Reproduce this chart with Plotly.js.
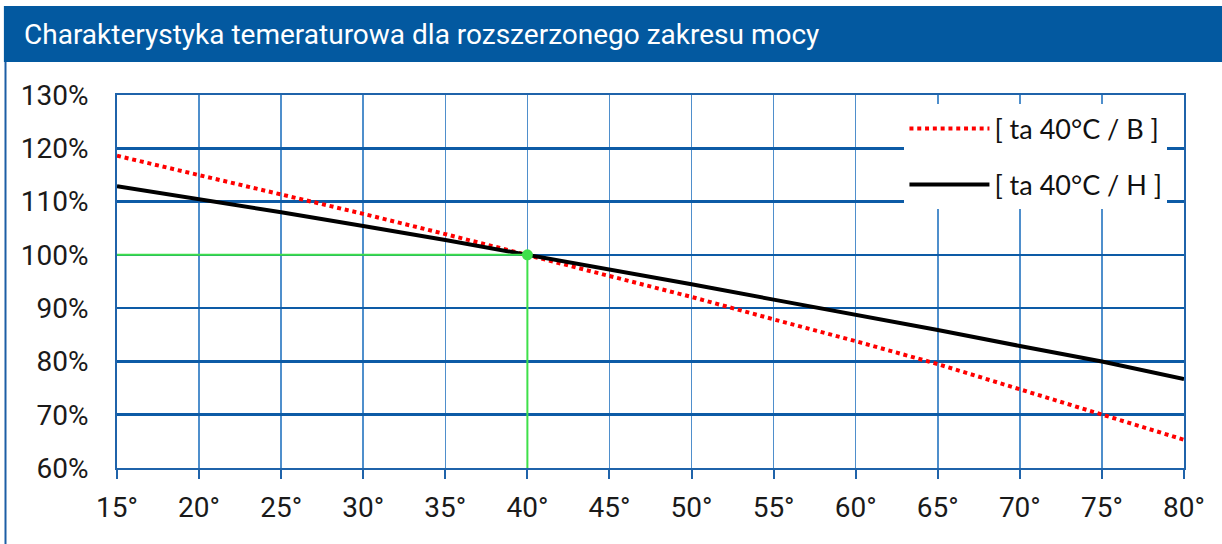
<!DOCTYPE html>
<html>
<head>
<meta charset="utf-8">
<script src="https://cdn.plot.ly/plotly-3.0.1.min.js"></script>
<style>html,body{margin:0;padding:0;background:#fff;}#chart{width:1222px;height:544px;}</style>
</head>
<body>
<div id="chart"></div>
<script>
const titleText = 'Charakterystyka temeraturowa dla rozszerzonego zakresu mocy';
const temps = [15, 20, 25, 30, 35, 40, 45, 50, 55, 60, 65, 70, 75, 80];
const seriesB = [118.6, 115.0, 111.4, 107.7, 103.9, 100.0, 96.1, 92.1, 87.9, 83.8, 79.5, 74.8, 70.1, 65.3];
const seriesH = [112.9, 110.5, 108.0, 105.4, 102.8, 100.0, 97.3, 94.5, 91.6, 88.8, 85.9, 82.9, 80.0, 76.7];
const nameB = '[ ta 40°C / B ]';
const nameH = '[ ta 40°C / H ]';
const refX = [15, 40, 40];
const refY = [100, 100, 60];
const refPointX = [40];
const refPointY = [100];
const xTicks = [15, 20, 25, 30, 35, 40, 45, 50, 55, 60, 65, 70, 75, 80];
const xTickLabels = ['15°', '20°', '25°', '30°', '35°', '40°', '45°', '50°', '55°', '60°', '65°', '70°', '75°', '80°'];
const yTicks = [60, 70, 80, 90, 100, 110, 120, 130];
const yTickLabels = ['60%', '70%', '80%', '90%', '100%', '110%', '120%', '130%'];

const traces = [
  {x: temps, y: seriesB, name: nameB, mode: 'lines', legendgroup: 'b',
   line: {color: '#ff0000', width: 4, dash: '4px,3.8px'}},
  {x: temps, y: seriesH, name: nameH, mode: 'lines', legendgroup: 'h',
   line: {color: '#000000', width: 4}},
  {x: refX, y: refY, mode: 'lines', showlegend: false, hoverinfo: 'skip',
   line: {color: '#3ee04a', width: 2}},
  {x: refPointX, y: refPointY, mode: 'markers', showlegend: false,
   marker: {color: '#3ee04a', size: 11}}
];

const layout = {
  width: 1222, height: 544,
  margin: {l: 117, r: 38, t: 95, b: 76},
  paper_bgcolor: '#ffffff', plot_bgcolor: '#ffffff',
  showlegend: true,
  legend: {
    x: 0.738, xanchor: 'left', y: 0.975, yanchor: 'top',
    bgcolor: '#ffffff', borderwidth: 0,
    font: {family: 'Lato', size: 27, color: '#111111'},
    itemwidth: 80, tracegroupgap: 18, traceorder: 'grouped'
  },
  xaxis: {
    range: [15, 80], tickmode: 'array', tickvals: xTicks, ticktext: xTickLabels,
    showgrid: true, gridcolor: '#4f8fcc', gridwidth: 1.5,
    showline: true, linecolor: '#1f63aa', linewidth: 2, mirror: true,
    ticks: 'outside', ticklen: 9, tickwidth: 2, tickcolor: '#1f63aa',
    ticklabelstandoff: 4,
    tickfont: {family: 'Roboto', size: 28, color: '#1a1a1a'},
    zeroline: false, fixedrange: true
  },
  yaxis: {
    range: [60, 130], tickmode: 'array', tickvals: yTicks, ticktext: yTickLabels,
    showgrid: true, gridcolor: '#0d5ba6', gridwidth: 2.5,
    showline: true, linecolor: '#1f63aa', linewidth: 2, mirror: true,
    ticks: '', ticklabelstandoff: 21,
    tickfont: {family: 'Roboto', size: 28, color: '#1a1a1a'},
    zeroline: false, fixedrange: true
  },
  shapes: [
    {type: 'rect', xref: 'paper', yref: 'paper', x0: -0.106, x1: 1.04, y0: 1.0885, y1: 1.2386,
     fillcolor: '#0359a0', line: {width: 0}, layer: 'above'},
    {type: 'line', xref: 'paper', yref: 'paper', x0: -0.1045, x1: -0.1045, y0: 1.0885, y1: -0.21,
     line: {color: '#1c5ea5', width: 2}, layer: 'above'}
  ],
  annotations: [
    {text: titleText, xref: 'paper', yref: 'paper', x: -0.089, y: 1.1635,
     xanchor: 'left', yanchor: 'middle', showarrow: false,
     font: {family: 'Roboto', size: 28, color: '#ffffff'}}
  ]
};

Plotly.newPlot('chart', traces, layout, {displayModeBar: false, staticPlot: true});
</script>
</body>
</html>
